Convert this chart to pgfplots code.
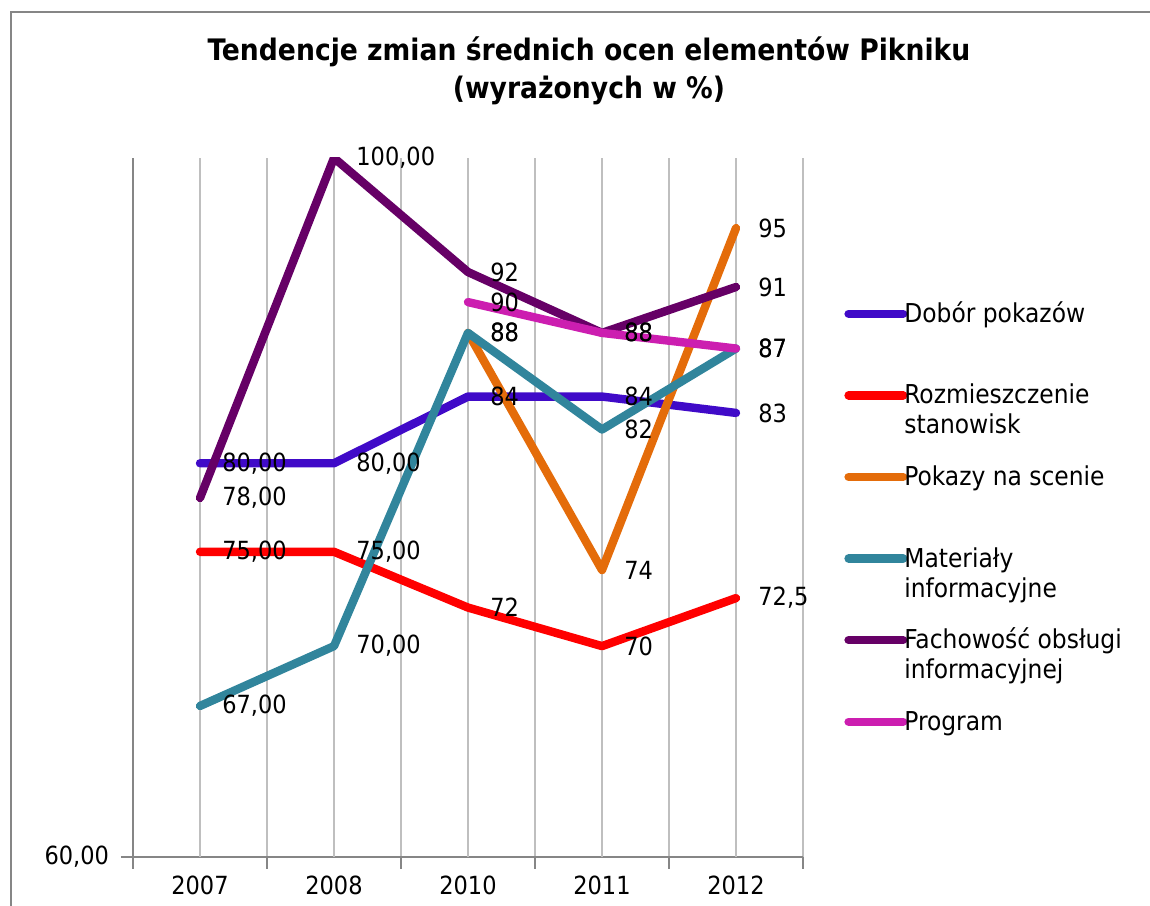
\documentclass[border=0pt]{standalone}
\usepackage{fontspec}
\setmainfont{DejaVu Sans Condensed}
\usepackage{pgfplots}
\pgfplotsset{compat=1.18}
\usepackage{pgfplotstable}

\definecolor{cDobor}{RGB}{64,10,200}
\definecolor{cRozm}{RGB}{255,0,0}
\definecolor{cPokazy}{RGB}{228,108,10}
\definecolor{cMater}{RGB}{49,133,156}
\definecolor{cFach}{RGB}{102,0,102}
\definecolor{cProg}{RGB}{204,30,176}
\definecolor{gridgray}{RGB}{191,191,191}
\definecolor{axisgray}{RGB}{134,134,134}

\pgfplotstableread{
x y label
0 80 80,00
1 80 80,00
2 84 84
3 84 84
4 83 83
}\dobor
\pgfplotstableread{
x y label
0 75 75,00
1 75 75,00
2 72 72
3 70 70
4 72.5 72,5
}\rozm
\pgfplotstableread{
x y label
2 88 88
3 74 74
4 95 95
}\pokazy
\pgfplotstableread{
x y label
0 67 67,00
1 70 70,00
2 88 88
3 82 82
4 87 87
}\mater
\pgfplotstableread{
x y label
0 78 78,00
1 100 100,00
2 92 92
3 88 88
4 91 91
}\fach
\pgfplotstableread{
x y label
2 90 90
3 88 88
4 87 87
}\prog

\begin{document}
\begin{tikzpicture}
\path[use as bounding box] (0pt,0pt) rectangle (575pt,452.5pt);
\draw[axisgray, line width=1pt] (5.5pt,-10pt) -- (5.5pt,446.5pt) -- (575pt,446.5pt);
\node[font=\bfseries\fontsize{14.8}{19}\selectfont, align=center] at (294.5pt,417pt) {Tendencje zmian średnich ocen elementów Pikniku\\(wyrażonych w \%)};
\begin{axis}[
  at={(66.5pt,24pt)}, anchor=south west,
  scale only axis, width=335pt, height=349.5pt,
  ymode=log, ymin=60, ymax=100,
  xmin=-0.5, xmax=4.5,
  ytick={60}, yticklabel={60,00},
  yticklabel style={xshift=-2.5pt},
  yminorticks=false,
  xtick={-0.5,0.5,1.5,2.5,3.5,4.5},
  xticklabels={},
  extra x ticks={0,1,2,3,4},
  extra x tick labels={2007,2008,2010,2011,2012},
  extra x tick style={grid=major, major tick length=0pt, xticklabel style={yshift=-6pt}},
  xmajorgrids=true,
  major grid style={gridgray, line width=1pt},
  axis x line*=bottom, axis y line*=left,
  axis line style={axisgray, line width=1pt, -},
  tick style={axisgray, line width=1pt},
  major tick length=6pt, tick align=outside,
  tick label style={font=\fontsize{12.5}{15}\selectfont, text=black},
  /pgf/number format/assume math mode=true,
  legend style={at={(1.0746,0.7954)}, anchor=north west, draw=none, fill=none,
    inner sep=0pt, row sep=13.8pt, column sep=0pt,
    font=\fontsize{13}{15}\selectfont, nodes={inner sep=0pt, align=left}},
  legend cell align=left,
  legend image code/.code={\path[draw=none, fill=none] (0pt,0pt) rectangle (25.5pt,0pt); \draw[#1, line cap=round, overlay] (-2.4pt,7.3pt) -- (24.9pt,7.3pt);},
  every node near coord/.append style={anchor=west, xshift=11pt, inner sep=0pt, text=black, font=\fontsize{12.5}{15}\selectfont},
]
\addplot[cDobor, line width=4.2pt, line cap=round, line join=round] table[x=x,y=y] {\dobor};
\addlegendentry{Dobór pokazów\strut\\\strut}
\addplot[cRozm, line width=4.2pt, line cap=round, line join=round] table[x=x,y=y] {\rozm};
\addlegendentry{Rozmieszczenie\strut\\stanowisk\strut}
\addplot[cPokazy, line width=4.2pt, line cap=round, line join=round] table[x=x,y=y] {\pokazy};
\addlegendentry{Pokazy na scenie\strut\\\strut}
\addplot[cMater, line width=4.2pt, line cap=round, line join=round] table[x=x,y=y] {\mater};
\addlegendentry{Materiały\strut\\informacyjne\strut}
\addplot[cFach, line width=4.2pt, line cap=round, line join=round] table[x=x,y=y] {\fach};
\addlegendentry{Fachowość obsługi\strut\\informacyjnej\strut}
\addplot[cProg, line width=4.2pt, line cap=round, line join=round] table[x=x,y=y] {\prog};
\addlegendentry{Program\strut\\\strut}

\addplot[draw=none, forget plot, nodes near coords, point meta=explicit symbolic] table[x=x,y=y,meta=label] {\dobor};
\addplot[draw=none, forget plot, nodes near coords, point meta=explicit symbolic] table[x=x,y=y,meta=label] {\rozm};
\addplot[draw=none, forget plot, nodes near coords, point meta=explicit symbolic] table[x=x,y=y,meta=label] {\pokazy};
\addplot[draw=none, forget plot, nodes near coords, point meta=explicit symbolic] table[x=x,y=y,meta=label] {\mater};
\addplot[draw=none, forget plot, nodes near coords, point meta=explicit symbolic] table[x=x,y=y,meta=label] {\fach};
\addplot[draw=none, forget plot, nodes near coords, point meta=explicit symbolic] table[x=x,y=y,meta=label] {\prog};
\end{axis}
\end{tikzpicture}
\end{document}
